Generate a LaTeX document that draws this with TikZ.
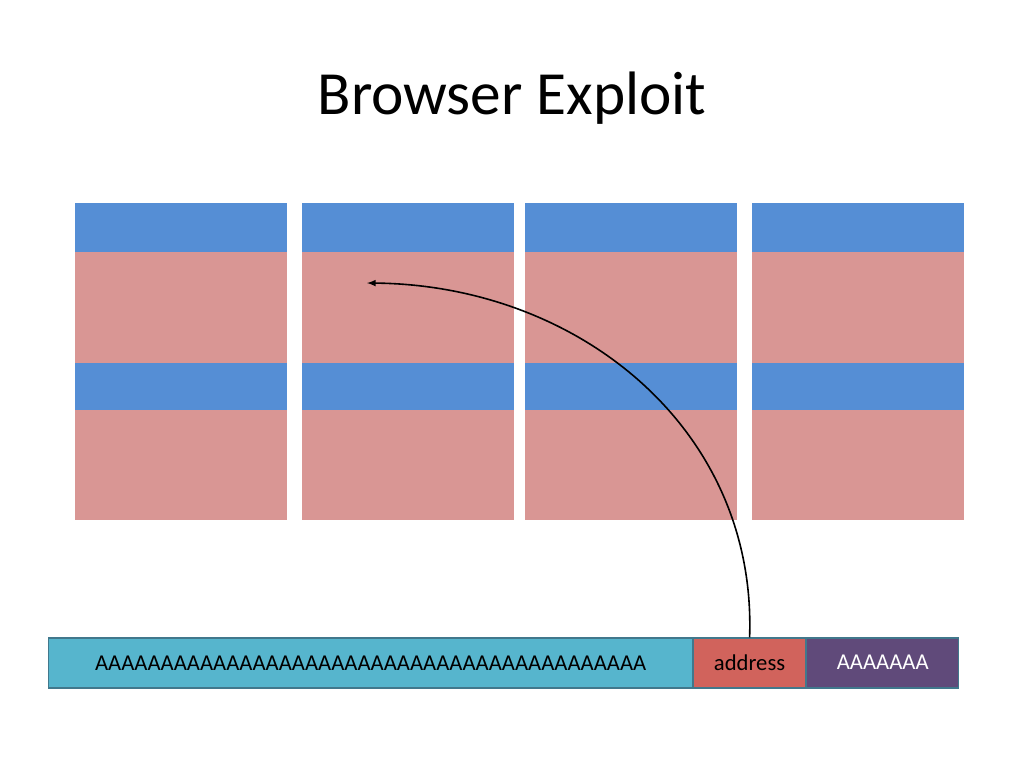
\documentclass[tikz,border=0pt]{standalone}
\usepackage{fontspec}
\setmainfont{Carlito}
\usetikzlibrary{positioning}
\begin{document}
\begin{tikzpicture}[x=0.75pt,y=-0.75pt]
    \tikzstyle{hdr}  = [fill={rgb,255:red,85;green,142;blue,213}]
    \tikzstyle{body} = [fill={rgb,255:red,217;green,150;blue,148}]
    \tikzstyle{seg}  = [draw={rgb,255:red,65;green,120;blue,140}, line width=0.8pt, minimum height=37.5pt, inner sep=0pt, font=\fontsize{17}{20}\selectfont]
    \useasboundingbox (0,0) rectangle (1024,768);

    % Title .........................
    \node[font=\fontsize{46}{50}\selectfont] (title) at (512,98) {Browser Exploit};

    % Memory blocks .........................
    \foreach \x in {75,302,525,752} {
        \fill[hdr]  (\x,203) rectangle ++(212,49);
        \fill[body] (\x,252) rectangle ++(212,111);
        \fill[hdr]  (\x,363) rectangle ++(212,47);
        \fill[body] (\x,410) rectangle ++(212,110);
    }
    \coordinate (target) at (367,283);

    % Overflow buffer .........................
    \node[seg, fill={rgb,255:red,86;green,181;blue,205}, minimum width=483pt, anchor=west] (pad) at (48,663)
        {AAAAAAAAAAAAAAAAAAAAAAAAAAAAAAAAAAAAAAAAAA};
    \node[seg, fill={rgb,255:red,209;green,99;blue,92}, minimum width=84pt, right=0pt of pad] (addr) {\raisebox{-3pt}{address}};
    \node[seg, fill={rgb,255:red,96;green,74;blue,122}, minimum width=114pt, right=0pt of addr, text=white] (tail) {\raisebox{1pt}{AAAAAAA}};

    \draw[-latex, line width=1.2pt] (addr.north) .. controls (757,430) and (580,285) .. (target);
\end{tikzpicture}
\end{document}
